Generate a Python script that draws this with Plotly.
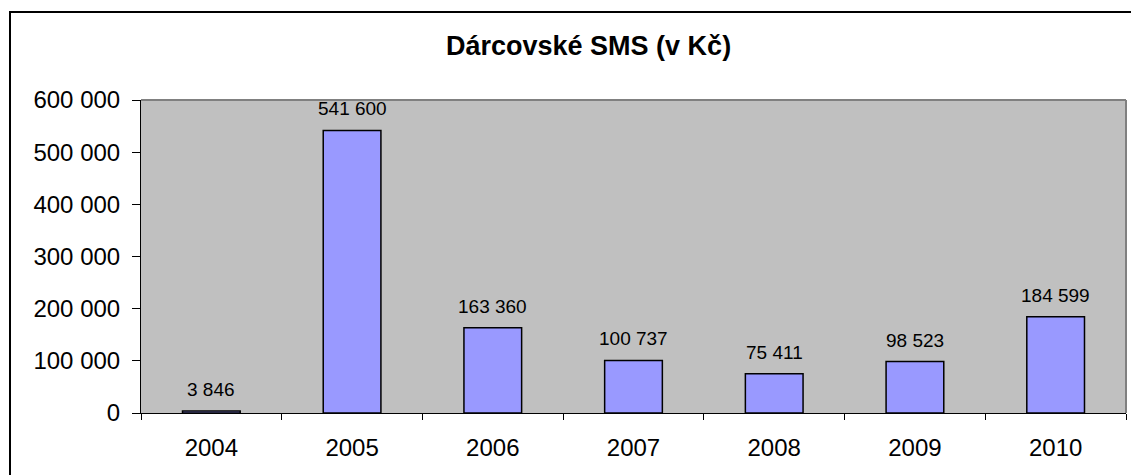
import plotly.graph_objects as go

years = ["2004", "2005", "2006", "2007", "2008", "2009", "2010"]
values = [3846, 541600, 163360, 100737, 75411, 98523, 184599]
title_text = "Dárcovské SMS (v Kč)"
y_ticks = [0, 100000, 200000, 300000, 400000, 500000, 600000]

W, H = 1131, 475
L, R, T, B = 141, 5, 100, 62
pw, ph = W - L - R, H - T - B

def px_x(p):
    return (p - L) / pw

def px_y(p):
    return (H - B - p) / ph

labels = [f"{v:,}".replace(",", " ") for v in values]

fig = go.Figure()
fig.add_trace(go.Bar(
    x=years, y=values, width=0.41,
    marker=dict(color="#9999FF", line=dict(color="black", width=1.5)),
    hoverinfo="skip",
))

for i, (v, t) in enumerate(zip(values, labels)):
    fig.add_annotation(x=i, y=v, text=t, showarrow=False, yanchor="bottom",
                       yshift=9, font=dict(family="Liberation Sans, Arial", size=19, color="black"))

fig.add_annotation(x=px_x(588), y=px_y(46), xref="paper", yref="paper", text="<b>" + title_text + "</b>",
                   showarrow=False, xanchor="center", yanchor="middle",
                   font=dict(family="Liberation Sans, Arial", size=27, color="black"))

# outer frame
fig.add_shape(type="rect", xref="paper", yref="paper",
              x0=px_x(10), x1=px_x(1150), y0=px_y(12), y1=px_y(490),
              line=dict(color="black", width=2), layer="below")
# plot area gray border top/right
fig.add_shape(type="line", xref="paper", yref="paper", x0=0, x1=1, y0=1, y1=1,
              line=dict(color="#808080", width=2))
fig.add_shape(type="line", xref="paper", yref="paper", x0=1, x1=1, y0=0, y1=1,
              line=dict(color="#808080", width=2))

fig.update_layout(
    width=W, height=H,
    margin=dict(l=L, r=R, t=T, b=B),
    paper_bgcolor="white", plot_bgcolor="#C0C0C0",
    separators=", ",
    showlegend=False,
    font=dict(family="Liberation Sans, Arial", color="black"),
    bargap=0.59,
)
fig.update_xaxes(type="category", tickson="boundaries", ticks="outside", ticklen=6,
                 tickcolor="black", showline=True, linecolor="black", linewidth=1,
                 showgrid=False, tickfont=dict(size=24), ticklabelstandoff=13,
                 range=[-0.5, 6.5], automargin=False)
fig.update_yaxes(range=[0, 600000], tickvals=y_ticks, tickformat=",d", ticks="outside", ticklen=8,
                 tickcolor="black", showline=True, linecolor="black", linewidth=1,
                 showgrid=False, zeroline=False, tickfont=dict(size=24), ticklabelstandoff=7,
                 automargin=False)

fig.write_html("out.html", config={"displayModeBar": False},
               post_script="document.body.style.margin='0';")
